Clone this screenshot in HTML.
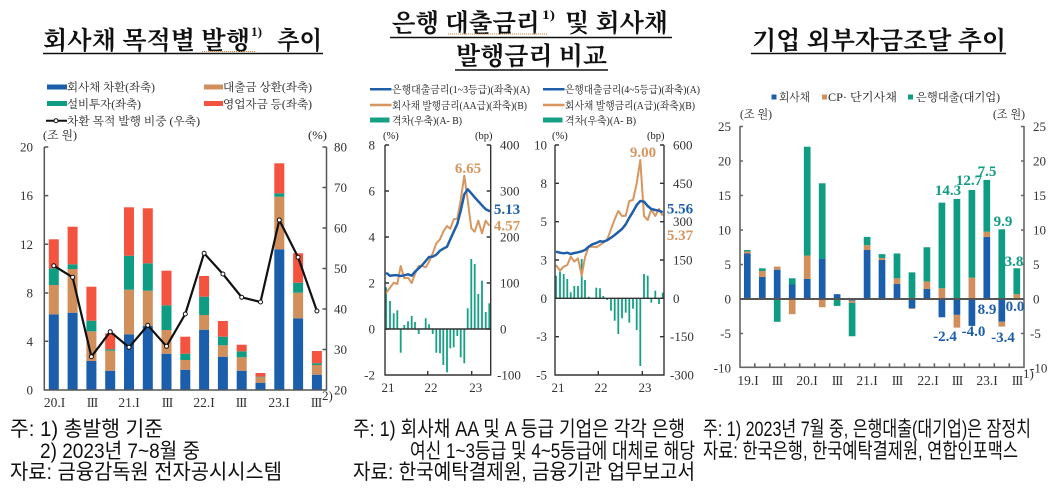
<!DOCTYPE html>
<html><head><meta charset="utf-8"><style>
html,body{margin:0;padding:0;background:#fff;}
svg{display:block;}
.t{font-family:"Liberation Serif","Noto Serif CJK SC",serif;font-weight:bold;fill:#111;}
.tk{font-family:"Liberation Serif","Noto Serif CJK SC",serif;font-size:13px;fill:#333;}
.rn{font-family:"Liberation Serif",serif;font-size:13.5px;fill:#333;}
.r3{letter-spacing:-1px;}
.lg{font-family:"Liberation Serif","Noto Serif CJK SC",serif;font-size:11.5px;fill:#222;}
.lg2{font-family:"Liberation Serif","Noto Serif CJK SC",serif;font-size:10.5px;fill:#222;}
.fn{font-family:"Liberation Sans","Noto Sans CJK KR",sans-serif;font-size:21px;fill:#111;}
.vl{font-family:"Liberation Serif",serif;font-size:15px;font-weight:bold;}
</style></head><body>
<svg width="1061" height="498" viewBox="0 0 1061 498" xmlns="http://www.w3.org/2000/svg">
<rect width="1061" height="498" fill="#fff"/>

<!-- ===== Titles ===== -->
<text class="t" x="43" y="49" font-size="25" textLength="207" lengthAdjust="spacingAndGlyphs">회사채 목적별 발행</text>
<text class="t" x="251" y="36" font-size="13" textLength="11" lengthAdjust="spacingAndGlyphs">1)</text>
<text class="t" x="277" y="49" font-size="25" textLength="45" lengthAdjust="spacingAndGlyphs">추이</text>
<line x1="43" y1="53.5" x2="323" y2="53.5" stroke="#111" stroke-width="1.6"/>
<line x1="202" y1="51.5" x2="255" y2="51.5" stroke="#e08030" stroke-width="1" stroke-dasharray="1,1"/>

<text class="t" x="391.7" y="31.5" font-size="25" textLength="148" lengthAdjust="spacingAndGlyphs">은행 대출금리</text>
<text class="t" x="542" y="19" font-size="13" textLength="13" lengthAdjust="spacingAndGlyphs">1)</text>
<text class="t" x="565" y="31.5" font-size="25" textLength="103" lengthAdjust="spacingAndGlyphs">및 회사채</text>
<line x1="390" y1="37.5" x2="672" y2="37.5" stroke="#111" stroke-width="1.6"/>
<line x1="448" y1="34" x2="547" y2="34" stroke="#e08030" stroke-width="1" stroke-dasharray="1,1"/>
<text class="t" x="456" y="64.5" font-size="25" textLength="151" lengthAdjust="spacingAndGlyphs">발행금리 비교</text>
<line x1="455" y1="70" x2="608" y2="70" stroke="#111" stroke-width="1.6"/>

<text class="t" x="752" y="49" font-size="25" textLength="254" lengthAdjust="spacingAndGlyphs">기업 외부자금조달 추이</text>
<line x1="751" y1="53.5" x2="1006" y2="53.5" stroke="#111" stroke-width="1.6"/>

<!-- ===== Left chart ===== -->
<rect x="47" y="84.5" width="20" height="5" fill="#1b5eab"/>
<text class="lg" x="67" y="91" textLength="88" lengthAdjust="spacingAndGlyphs">회사채 차환(좌축)</text>
<rect x="204" y="84.5" width="19" height="5" fill="#d18f5c"/>
<text class="lg" x="223" y="91" textLength="89" lengthAdjust="spacingAndGlyphs">대출금 상환(좌축)</text>
<rect x="47" y="101" width="20" height="5" fill="#0e9c82"/>
<text class="lg" x="67" y="108" textLength="74" lengthAdjust="spacingAndGlyphs">설비투자(좌축)</text>
<rect x="204" y="101" width="19" height="5" fill="#f4533f"/>
<text class="lg" x="223" y="108" textLength="89" lengthAdjust="spacingAndGlyphs">영업자금 등(좌축)</text>
<line x1="46" y1="120.7" x2="67" y2="120.7" stroke="#111" stroke-width="2"/>
<circle cx="56" cy="120.7" r="2" fill="#fff" stroke="#111" stroke-width="1"/>
<text class="lg" x="67" y="125" textLength="133" lengthAdjust="spacingAndGlyphs">차환 목적 발행 비중 (우축)</text>
<text class="lg" x="43" y="139" textLength="34" lengthAdjust="spacingAndGlyphs">(조 원)</text>
<text class="lg" x="308" y="139" textLength="19" lengthAdjust="spacingAndGlyphs">(%)</text>

<g>
<rect x="48.8" y="314.3" width="10" height="75.7" fill="#1b5eab"/><rect x="48.8" y="285" width="10" height="29.3" fill="#d18f5c"/><rect x="48.8" y="268.3" width="10" height="16.7" fill="#0e9c82"/><rect x="48.8" y="239.3" width="10" height="29" fill="#f4533f"/>
<rect x="67.6" y="312.7" width="10" height="77.3" fill="#1b5eab"/><rect x="67.6" y="269" width="10" height="43.7" fill="#d18f5c"/><rect x="67.6" y="264.3" width="10" height="4.7" fill="#0e9c82"/><rect x="67.6" y="226.7" width="10" height="37.6" fill="#f4533f"/>
<rect x="86.4" y="361" width="10" height="29" fill="#1b5eab"/><rect x="86.4" y="331.3" width="10" height="29.7" fill="#d18f5c"/><rect x="86.4" y="320.7" width="10" height="10.6" fill="#0e9c82"/><rect x="86.4" y="286.7" width="10" height="34" fill="#f4533f"/>
<rect x="105.2" y="370.7" width="10" height="19.3" fill="#1b5eab"/><rect x="105.2" y="350.7" width="10" height="20" fill="#d18f5c"/><rect x="105.2" y="349.3" width="10" height="1.4" fill="#0e9c82"/><rect x="105.2" y="333.3" width="10" height="16" fill="#f4533f"/>
<rect x="124" y="334.3" width="10" height="55.7" fill="#1b5eab"/><rect x="124" y="289.7" width="10" height="44.6" fill="#d18f5c"/><rect x="124" y="255.7" width="10" height="34" fill="#0e9c82"/><rect x="124" y="207.3" width="10" height="48.4" fill="#f4533f"/>
<rect x="142.8" y="326" width="10" height="64" fill="#1b5eab"/><rect x="142.8" y="290.7" width="10" height="35.3" fill="#d18f5c"/><rect x="142.8" y="263.3" width="10" height="27.4" fill="#0e9c82"/><rect x="142.8" y="208.3" width="10" height="55" fill="#f4533f"/>
<rect x="161.5" y="353.7" width="10" height="36.3" fill="#1b5eab"/><rect x="161.5" y="330" width="10" height="23.7" fill="#d18f5c"/><rect x="161.5" y="305.3" width="10" height="24.7" fill="#0e9c82"/><rect x="161.5" y="270.7" width="10" height="34.6" fill="#f4533f"/>
<rect x="180.3" y="369.7" width="10" height="20.3" fill="#1b5eab"/><rect x="180.3" y="360" width="10" height="9.7" fill="#d18f5c"/><rect x="180.3" y="353.7" width="10" height="6.3" fill="#0e9c82"/><rect x="180.3" y="336.7" width="10" height="17" fill="#f4533f"/>
<rect x="199.1" y="329.7" width="10" height="60.3" fill="#1b5eab"/><rect x="199.1" y="315" width="10" height="14.7" fill="#d18f5c"/><rect x="199.1" y="296.7" width="10" height="18.3" fill="#0e9c82"/><rect x="199.1" y="276" width="10" height="20.7" fill="#f4533f"/>
<rect x="217.9" y="356.7" width="10" height="33.3" fill="#1b5eab"/><rect x="217.9" y="345.3" width="10" height="11.4" fill="#d18f5c"/><rect x="217.9" y="336.7" width="10" height="8.6" fill="#0e9c82"/><rect x="217.9" y="321" width="10" height="15.7" fill="#f4533f"/>
<rect x="236.7" y="370.7" width="10" height="19.3" fill="#1b5eab"/><rect x="236.7" y="357.3" width="10" height="13.4" fill="#d18f5c"/><rect x="236.7" y="351.3" width="10" height="6" fill="#0e9c82"/><rect x="236.7" y="344.7" width="10" height="6.6" fill="#f4533f"/>
<rect x="255.5" y="382.7" width="10" height="7.3" fill="#1b5eab"/><rect x="255.5" y="377.3" width="10" height="5.4" fill="#d18f5c"/><rect x="255.5" y="376.7" width="10" height="0.6" fill="#0e9c82"/><rect x="255.5" y="373" width="10" height="3.7" fill="#f4533f"/>
<rect x="274.3" y="249.3" width="10" height="140.7" fill="#1b5eab"/><rect x="274.3" y="196.7" width="10" height="52.6" fill="#d18f5c"/><rect x="274.3" y="193.3" width="10" height="3.4" fill="#0e9c82"/><rect x="274.3" y="163.3" width="10" height="30" fill="#f4533f"/>
<rect x="293.1" y="318.3" width="10" height="71.7" fill="#1b5eab"/><rect x="293.1" y="292.7" width="10" height="25.6" fill="#d18f5c"/><rect x="293.1" y="282.7" width="10" height="10" fill="#0e9c82"/><rect x="293.1" y="253.3" width="10" height="29.4" fill="#f4533f"/>
<rect x="311.9" y="374.7" width="10" height="15.3" fill="#1b5eab"/><rect x="311.9" y="365" width="10" height="9.7" fill="#d18f5c"/><rect x="311.9" y="363.3" width="10" height="1.7" fill="#0e9c82"/><rect x="311.9" y="351" width="10" height="12.3" fill="#f4533f"/>
</g>
<polyline fill="none" stroke="#111" stroke-width="2.2" stroke-linejoin="round" points="53.8,265.7 72.6,277.3 91.4,356.7 110.2,331.7 129,347.3 147.8,325.3 166.5,346.3 185.3,314 204.1,253.3 222.9,274 241.7,297.3 260.5,302 279.3,220 298.1,257.3 316.9,311"/>
<g fill="#fff" stroke="#111" stroke-width="1">
<circle cx="53.8" cy="265.7" r="2"/><circle cx="72.6" cy="277.3" r="2"/><circle cx="91.4" cy="356.7" r="2"/><circle cx="110.2" cy="331.7" r="2"/><circle cx="129" cy="347.3" r="2"/><circle cx="147.8" cy="325.3" r="2"/><circle cx="166.5" cy="346.3" r="2"/><circle cx="185.3" cy="314" r="2"/><circle cx="204.1" cy="253.3" r="2"/><circle cx="222.9" cy="274" r="2"/><circle cx="241.7" cy="297.3" r="2"/><circle cx="260.5" cy="302" r="2"/><circle cx="279.3" cy="220" r="2"/><circle cx="298.1" cy="257.3" r="2"/><circle cx="316.9" cy="311" r="2"/>
</g>
<g stroke="#555" stroke-width="1.5" fill="none">
<line x1="44.3" y1="147" x2="44.3" y2="390.5"/>
<line x1="326.5" y1="147" x2="326.5" y2="390.5"/>
<line x1="44" y1="390" x2="327" y2="390"/>
<path d="M44.3 147h4M44.3 195.6h4M44.3 244.3h4M44.3 293h4M44.3 341.3h4"/>
<path d="M326.5 147h-4M326.5 187.5h-4M326.5 228h-4M326.5 268.5h-4M326.5 309h-4M326.5 349.5h-4"/>
</g>
<g class="tk" text-anchor="end">
<text x="33" y="151.5">20</text><text x="33" y="200">16</text><text x="33" y="248.8">12</text><text x="33" y="297.5">8</text><text x="33" y="345.8">4</text><text x="33" y="394.5">0</text>
</g>
<g class="tk">
<text x="334" y="151.5">80</text><text x="334" y="192">70</text><text x="334" y="232.5">60</text><text x="334" y="273">50</text><text x="334" y="313.5">40</text><text x="334" y="354">30</text><text x="334" y="394.5">20</text>
</g>
<g class="rn" text-anchor="middle">
<text x="54.5" y="407">20.I</text><text class="r3" x="92" y="407">III</text><text x="129" y="407">21.I</text><text class="r3" x="167" y="407">III</text><text x="204" y="407">22.I</text><text class="r3" x="241" y="407">III</text><text x="279" y="407">23.I</text><text class="r3" x="316" y="407">III</text>
</g>
<text class="tk" x="322" y="400" font-size="7">2)</text>

<!-- ===== Middle legend ===== -->
<line x1="370" y1="89.3" x2="391.5" y2="89.3" stroke="#1f5faa" stroke-width="2.5"/>
<text class="lg2" x="392" y="93" textLength="138" lengthAdjust="spacingAndGlyphs">은행대출금리(1~3등급)(좌축)(A)</text>
<line x1="543" y1="89.3" x2="564.5" y2="89.3" stroke="#1f5faa" stroke-width="2.5"/>
<text class="lg2" x="565" y="93" textLength="135" lengthAdjust="spacingAndGlyphs">은행대출금리(4~5등급)(좌축)(A)</text>
<line x1="370" y1="105" x2="391.5" y2="105" stroke="#d8965f" stroke-width="2.5"/>
<text class="lg2" x="392" y="109" textLength="135" lengthAdjust="spacingAndGlyphs">회사채 발행금리(AA급)(좌축)(B)</text>
<line x1="543" y1="105" x2="564.5" y2="105" stroke="#d8965f" stroke-width="2.5"/>
<text class="lg2" x="565" y="109" textLength="130" lengthAdjust="spacingAndGlyphs">회사채 발행금리(A급)(좌축)(B)</text>
<rect x="370" y="117.5" width="19.5" height="5" fill="#16a085"/>
<text class="lg2" x="392" y="124" textLength="70" lengthAdjust="spacingAndGlyphs">격차(우축)(A- B)</text>
<rect x="543" y="117.5" width="19.5" height="5" fill="#16a085"/>
<text class="lg2" x="565" y="124" textLength="71" lengthAdjust="spacingAndGlyphs">격차(우축)(A- B)</text>

<!-- ===== Chart A ===== -->
<text class="lg2" x="383" y="139">(%)</text>
<text class="lg2" x="475" y="139">(bp)</text>
<g fill="#16a085">
<rect x="385.2" y="287.3" width="1.8" height="41.7"/><rect x="389.1" y="301" width="1.8" height="28"/><rect x="392.8" y="313.3" width="1.8" height="15.7"/><rect x="396.4" y="310.3" width="1.8" height="18.7"/><rect x="399.8" y="329" width="1.8" height="23.7"/><rect x="403.4" y="325" width="1.8" height="4"/><rect x="407.1" y="321.3" width="1.8" height="7.7"/><rect x="410.8" y="316" width="1.8" height="13"/><rect x="414.1" y="322" width="1.8" height="7"/><rect x="417.8" y="329" width="1.8" height="5"/><rect x="421.4" y="328.3" width="1.8" height="0.7"/><rect x="424.8" y="318.3" width="1.8" height="10.7"/><rect x="428.1" y="324.3" width="1.8" height="4.7"/><rect x="431.8" y="329" width="1.8" height="5"/><rect x="435.4" y="329" width="1.8" height="23.7"/><rect x="439.1" y="329" width="1.8" height="24.3"/><rect x="442.4" y="329" width="1.8" height="36"/><rect x="446.1" y="329" width="1.8" height="43.3"/><rect x="449.4" y="329" width="1.8" height="19.3"/><rect x="452.8" y="329" width="1.8" height="18.3"/><rect x="456.4" y="329" width="1.8" height="7"/><rect x="459.8" y="329" width="1.8" height="28.3"/><rect x="463.4" y="329" width="1.8" height="34.3"/><rect x="466.8" y="308.3" width="1.8" height="20.7"/><rect x="470.4" y="259" width="1.8" height="70"/><rect x="473.8" y="264" width="1.8" height="65"/><rect x="477.4" y="294" width="1.8" height="35"/><rect x="481.1" y="280.7" width="1.8" height="48.3"/><rect x="484.8" y="312" width="1.8" height="17"/><rect x="488.4" y="303.3" width="1.8" height="25.7"/>
</g>
<polyline fill="none" stroke="#d8965f" stroke-width="2" stroke-linejoin="round" points="386,293.3 390,287.7 393.7,282.7 397.3,284 400.7,266 404.3,278.3 408,277.7 411.7,283 415,274 418.7,266 422.3,266 425.7,267.3 429,261.7 432.7,253.3 436.3,243.3 440,239.3 443.3,231.7 447,226 450.3,228.7 453.7,219.3 457.3,218.7 460.7,200 464.3,175.7 467.7,200 471.3,228.3 474.7,231.7 478.3,220.7 482,233.3 485.7,220.7 489.3,225.7"/>
<polyline fill="none" stroke="#1f5faa" stroke-width="2.5" stroke-linejoin="round" points="386,272.7 390,275.7 393.7,275.3 397.3,275.3 400.7,276 404.3,275.3 408,274.3 411.7,275.7 415,271.7 418.7,268.3 422.3,265 425.7,261 429,257 432.7,256.7 436.3,254.7 440,250.7 443.3,248.7 447,246.7 450.3,239.3 453.7,231.7 457.3,224 460.7,210.7 464.3,194.3 467.7,189.3 471.3,193.3 474.7,197.3 478.3,201.3 482,205.3 485.7,209.3 489.3,211 490.7,210.7"/>
<g stroke="#333" stroke-width="1.4" fill="none">
<line x1="385" y1="145" x2="385" y2="375.5"/>
<line x1="490.7" y1="145" x2="490.7" y2="375.5"/>
<line x1="384.5" y1="375" x2="491" y2="375"/>
<line x1="385" y1="329" x2="490.7" y2="329"/>
<path d="M385 145h4M385 191h4M385 237h4M385 283h4M385 329h4"/>
<path d="M490.7 145h-4M490.7 191h-4M490.7 237h-4M490.7 283h-4M490.7 329h-4"/>
<path d="M427.7 375v-4M471.7 375v-4"/>
</g>
<g class="tk" text-anchor="end">
<text x="375" y="149.5">8</text><text x="375" y="195.5">6</text><text x="375" y="241.5">4</text><text x="375" y="287.5">2</text><text x="375" y="333.5">0</text><text x="375" y="379.5">-2</text>
</g>
<g class="tk">
<text x="500" y="149.5">400</text><text x="500" y="195.5">300</text><text x="500" y="241.5">200</text><text x="500" y="287.5">100</text><text x="500" y="333.5">0</text><text x="497" y="379.5">-100</text>
</g>
<g class="tk" text-anchor="middle">
<text x="388" y="392">21</text><text x="431" y="392">22</text><text x="475.7" y="392">23</text>
</g>
<text class="vl" x="468" y="173" fill="#d8965f" text-anchor="middle">6.65</text>
<text class="vl" x="507" y="214" fill="#1f5faa" text-anchor="middle">5.13</text>
<text class="vl" x="507" y="230.5" fill="#d8965f" text-anchor="middle">4.57</text>

<!-- ===== Chart B ===== -->
<text class="lg2" x="552" y="139">(%)</text>
<text class="lg2" x="647" y="139">(bp)</text>
<g fill="#16a085">
<rect x="555.1" y="275.7" width="1.8" height="22.6"/><rect x="559.1" y="271.7" width="1.8" height="26.6"/><rect x="562.8" y="274" width="1.8" height="24.3"/><rect x="566.4" y="279" width="1.8" height="19.3"/><rect x="569.8" y="292.3" width="1.8" height="6"/><rect x="573.4" y="286" width="1.8" height="12.3"/><rect x="577.1" y="286" width="1.8" height="12.3"/><rect x="580.8" y="259" width="1.8" height="39.3"/><rect x="584.1" y="280" width="1.8" height="18.3"/><rect x="587.8" y="296.7" width="1.8" height="1.6"/><rect x="595.4" y="287.7" width="1.8" height="10.6"/><rect x="599.1" y="288.3" width="1.8" height="10"/><rect x="602.4" y="296" width="1.8" height="2.3"/><rect x="606.1" y="298.3" width="1.8" height="1.7"/><rect x="610.1" y="298.3" width="1.8" height="12.4"/><rect x="613.8" y="298.3" width="1.8" height="22.4"/><rect x="617.4" y="298.3" width="1.8" height="35.7"/><rect x="621.1" y="298.3" width="1.8" height="20"/><rect x="624.8" y="298.3" width="1.8" height="14.4"/><rect x="628.4" y="298.3" width="1.8" height="24.4"/><rect x="632.1" y="298.3" width="1.8" height="10.4"/><rect x="635.8" y="298.3" width="1.8" height="31.7"/><rect x="639.4" y="298.3" width="1.8" height="67.7"/><rect x="643.1" y="274" width="1.8" height="24.3"/><rect x="646.8" y="275.7" width="1.8" height="22.6"/><rect x="650.4" y="298.3" width="1.8" height="4.4"/><rect x="654.4" y="290.7" width="1.8" height="7.6"/><rect x="658.1" y="298.3" width="1.8" height="5.7"/><rect x="661.8" y="292.7" width="1.8" height="5.6"/>
</g>
<polyline fill="none" stroke="#d8965f" stroke-width="2" stroke-linejoin="round" points="556,265 560,270.7 563.7,266.7 567.3,265 570.7,256.7 574.3,261.7 578,258.3 581.7,275.7 585,257.3 588.7,246.7 592.3,246.7 596.3,247.3 600,245 603.3,242.7 607,240 611,229.3 614.7,219.3 618.3,211 622,216 625.7,215.7 629.3,201 633,200 636.7,183.3 640.3,160 644,216 647.7,220 651.3,209.3 655.3,216 659,209 662.7,215.7"/>
<polyline fill="none" stroke="#1f5faa" stroke-width="2.5" stroke-linejoin="round" points="556,251.7 560,252.7 563.7,253.3 567.3,252.7 570.7,254 574.3,253 578,252.3 581.7,251.3 585,250 588.7,246.7 592.3,244.3 596.3,243 600,241.3 603.3,241.7 607,240.3 611,237.7 614.7,235 618.3,232 622,229 625.7,224.3 629.3,217.7 633,211.7 636.7,205 640.3,201 644,201.7 647.7,206 651.3,209 655.3,210 659,210.7 662.7,212.3"/>
<g stroke="#333" stroke-width="1.4" fill="none">
<line x1="555" y1="145" x2="555" y2="375.5"/>
<line x1="664" y1="145" x2="664" y2="375.5"/>
<line x1="554.5" y1="375" x2="664.5" y2="375"/>
<line x1="555" y1="298.3" x2="664" y2="298.3"/>
<path d="M555 145h4M555 183.3h4M555 221.7h4M555 260h4M555 298.3h4M555 336.7h4"/>
<path d="M664 145h-4M664 183.3h-4M664 221.7h-4M664 260h-4M664 298.3h-4M664 336.7h-4"/>
<path d="M598.3 375v-4M642.3 375v-4"/>
</g>
<g class="tk" text-anchor="end">
<text x="547" y="149.5">10</text><text x="547" y="187.8">8</text><text x="547" y="226.2">5</text><text x="547" y="264.5">3</text><text x="547" y="302.8">0</text><text x="547" y="341.2">-3</text><text x="547" y="379.5">-5</text>
</g>
<g class="tk">
<text x="673" y="149.5">600</text><text x="673" y="187.8">450</text><text x="673" y="226.2">300</text><text x="673" y="264.5">150</text><text x="673" y="302.8">0</text><text x="670" y="341.2">-150</text><text x="670" y="379.5">-300</text>
</g>
<g class="tk" text-anchor="middle">
<text x="558" y="392">21</text><text x="601" y="392">22</text><text x="645" y="392">23</text>
</g>
<text class="vl" x="643" y="157" fill="#d8965f" text-anchor="middle">9.00</text>
<text class="vl" x="680" y="213.5" fill="#1f5faa" text-anchor="middle">5.56</text>
<text class="vl" x="680" y="240" fill="#d8965f" text-anchor="middle">5.37</text>

<!-- ===== Right chart ===== -->
<rect x="771.5" y="94.5" width="5" height="5" fill="#1b5eab"/>
<text class="lg" x="779" y="101" textLength="31" lengthAdjust="spacingAndGlyphs">회사채</text>
<rect x="822" y="94.5" width="5" height="5" fill="#d18f5c"/>
<text class="lg" x="828" y="101" textLength="69" lengthAdjust="spacingAndGlyphs">CP· 단기사채</text>
<rect x="908" y="94.5" width="5" height="5" fill="#0e9c82"/>
<text class="lg" x="916" y="101" textLength="84" lengthAdjust="spacingAndGlyphs">은행대출(대기업)</text>
<text class="lg" x="740" y="118" textLength="32" lengthAdjust="spacingAndGlyphs">(조 원)</text>
<text class="lg" x="993" y="118" textLength="32" lengthAdjust="spacingAndGlyphs">(조 원)</text>

<g transform="translate(0,299) scale(1,-6.9)">
<rect x="743.95" y="0" width="6.7" height="6.6" fill="#1b5eab"/><rect x="743.95" y="6.6" width="6.7" height="0.3" fill="#d18f5c"/><rect x="743.95" y="6.9" width="6.7" height="0.2" fill="#0e9c82"/>
<rect x="758.95" y="0" width="6.7" height="3.2" fill="#1b5eab"/><rect x="758.95" y="3.2" width="6.7" height="0.85" fill="#d18f5c"/><rect x="758.95" y="4.05" width="6.7" height="0.4" fill="#0e9c82"/>
<rect x="773.85" y="0" width="6.7" height="4.25" fill="#1b5eab"/><rect x="773.85" y="4.25" width="6.7" height="0.45" fill="#d18f5c"/><rect x="773.85" y="-3.3" width="6.7" height="3.3" fill="#0e9c82"/>
<rect x="788.85" y="0" width="6.7" height="2.1" fill="#1b5eab"/><rect x="788.85" y="2.1" width="6.7" height="0.9" fill="#0e9c82"/><rect x="788.85" y="-2.2" width="6.7" height="2.2" fill="#d18f5c"/>
<rect x="803.85" y="0" width="6.7" height="2.9" fill="#1b5eab"/><rect x="803.85" y="2.9" width="6.7" height="3.4" fill="#d18f5c"/><rect x="803.85" y="6.3" width="6.7" height="15.77" fill="#0e9c82"/>
<rect x="818.85" y="0" width="6.7" height="5.85" fill="#1b5eab"/><rect x="818.85" y="5.85" width="6.7" height="10.92" fill="#0e9c82"/><rect x="818.85" y="-1.2" width="6.7" height="1.2" fill="#d18f5c"/>
<rect x="833.75" y="0" width="6.7" height="0.7" fill="#1b5eab"/><rect x="833.75" y="-1.0" width="6.7" height="1.0" fill="#0e9c82"/>
<rect x="848.75" y="-0.25" width="6.7" height="0.25" fill="#1b5eab"/><rect x="848.75" y="-0.55" width="6.7" height="0.3" fill="#d18f5c"/><rect x="848.75" y="-5.4" width="6.7" height="4.85" fill="#0e9c82"/>
<rect x="863.75" y="0" width="6.7" height="7.1" fill="#1b5eab"/><rect x="863.75" y="7.1" width="6.7" height="0.7" fill="#d18f5c"/><rect x="863.75" y="7.8" width="6.7" height="1.2" fill="#0e9c82"/>
<rect x="878.65" y="0" width="6.7" height="5.65" fill="#1b5eab"/><rect x="878.65" y="5.65" width="6.7" height="0.3" fill="#d18f5c"/><rect x="878.65" y="5.95" width="6.7" height="0.55" fill="#0e9c82"/>
<rect x="893.65" y="0" width="6.7" height="2.17" fill="#1b5eab"/><rect x="893.65" y="2.17" width="6.7" height="0.83" fill="#d18f5c"/><rect x="893.65" y="3.0" width="6.7" height="3.6" fill="#0e9c82"/>
<rect x="908.65" y="0" width="6.7" height="3.86" fill="#0e9c82"/><rect x="908.65" y="-1.35" width="6.7" height="1.35" fill="#1b5eab"/><rect x="908.65" y="-1.45" width="6.7" height="0.1" fill="#d18f5c"/>
<rect x="923.55" y="0" width="6.7" height="1.45" fill="#1b5eab"/><rect x="923.55" y="1.45" width="6.7" height="1.1" fill="#d18f5c"/><rect x="923.55" y="2.55" width="6.7" height="4.95" fill="#0e9c82"/>
<rect x="938.55" y="0" width="6.7" height="1.55" fill="#d18f5c"/><rect x="938.55" y="1.55" width="6.7" height="12.41" fill="#0e9c82"/><rect x="938.55" y="-2.65" width="6.7" height="2.65" fill="#1b5eab"/>
<rect x="953.55" y="0" width="6.7" height="14.5" fill="#0e9c82"/><rect x="953.55" y="-2.3" width="6.7" height="2.3" fill="#1b5eab"/><rect x="953.55" y="-4.15" width="6.7" height="1.85" fill="#d18f5c"/>
<rect x="968.55" y="0" width="6.7" height="3.1" fill="#d18f5c"/><rect x="968.55" y="3.1" width="6.7" height="12.7" fill="#0e9c82"/><rect x="968.55" y="-3.9" width="6.7" height="3.9" fill="#1b5eab"/>
<rect x="983.45" y="0" width="6.7" height="9.0" fill="#1b5eab"/><rect x="983.45" y="9.0" width="6.7" height="0.75" fill="#d18f5c"/><rect x="983.45" y="9.75" width="6.7" height="7.5" fill="#0e9c82"/>
<rect x="998.45" y="0" width="6.7" height="10.1" fill="#0e9c82"/><rect x="998.45" y="-3.3" width="6.7" height="3.3" fill="#1b5eab"/><rect x="998.45" y="-4.0" width="6.7" height="0.7" fill="#d18f5c"/>
<rect x="1013.45" y="0" width="6.7" height="0.7" fill="#d18f5c"/><rect x="1013.45" y="0.7" width="6.7" height="3.75" fill="#0e9c82"/>
</g>
<g stroke="#666" stroke-width="1.6" fill="none">
<line x1="740" y1="126" x2="740" y2="368"/>
<line x1="1024" y1="126" x2="1024" y2="368"/>
<line x1="739.5" y1="367.3" x2="1024.5" y2="367.3"/>
<path d="M740 126.5h3M740 161h3M740 195.5h3M740 230h3M740 264.5h3M740 333.5h3"/>
<path d="M1024 126.5h-3M1024 161h-3M1024 195.5h-3M1024 230h-3M1024 264.5h-3M1024 333.5h-3"/>
<path d="M754.8 367.3v-4M769.8 367.3v-4M784.7 367.3v-4M799.7 367.3v-4M814.7 367.3v-4M829.7 367.3v-4M844.6 367.3v-4M859.6 367.3v-4M874.6 367.3v-4M889.5 367.3v-4M904.5 367.3v-4M919.5 367.3v-4M934.4 367.3v-4M949.4 367.3v-4M964.4 367.3v-4M979.4 367.3v-4M994.3 367.3v-4M1009.3 367.3v-4"/>
</g>
<line x1="740" y1="299" x2="1024" y2="299" stroke="#555" stroke-width="2"/>
<g class="tk" text-anchor="end">
<text x="731" y="131">25</text><text x="731" y="165.5">20</text><text x="731" y="200">15</text><text x="731" y="234.5">10</text><text x="731" y="269">5</text><text x="731" y="303.5">0</text><text x="731" y="338">-5</text><text x="731" y="372.5">-10</text>
</g>
<g class="tk">
<text x="1033" y="131">25</text><text x="1033" y="165.5">20</text><text x="1033" y="200">15</text><text x="1033" y="234.5">10</text><text x="1033" y="269">5</text><text x="1033" y="303.5">0</text><text x="1030" y="338">-5</text><text x="1030" y="372.5">-10</text>
</g>
<g class="rn" text-anchor="middle">
<text x="748" y="385">19.I</text><text class="r3" x="777" y="385">III</text><text x="807" y="385">20.I</text><text class="r3" x="837" y="385">III</text><text x="867" y="385">21.I</text><text class="r3" x="897" y="385">III</text><text x="928" y="385">22.I</text><text class="r3" x="957" y="385">III</text><text x="987" y="385">23.I</text><text class="r3" x="1017" y="385">III</text>
</g>
<text class="tk" x="1023" y="378" font-size="7">1)</text>
<g class="vl" text-anchor="middle" fill="#0e9c82">
<text x="948" y="195">14.3</text><text x="969" y="185">12.7</text><text x="987" y="176">7.5</text><text x="1003" y="226">9.9</text><text x="1014" y="266">3.8</text>
</g>
<g class="vl" text-anchor="middle" fill="#1b5eab">
<text x="987" y="314">8.9</text><text x="1015" y="311">0.0</text><text x="945" y="341">-2.4</text><text x="973.5" y="336">-4.0</text><text x="1003" y="342">-3.4</text>
</g>

<!-- ===== Footnotes ===== -->
<text class="fn" x="10" y="436" textLength="153" lengthAdjust="spacingAndGlyphs">주: 1) 총발행 기준</text>
<text class="fn" x="40" y="458" textLength="160" lengthAdjust="spacingAndGlyphs">2) 2023년 7~8월 중</text>
<text class="fn" x="10" y="479" textLength="272" lengthAdjust="spacingAndGlyphs">자료: 금융감독원 전자공시시스템</text>

<text class="fn" x="353" y="436" textLength="332" lengthAdjust="spacingAndGlyphs">주: 1) 회사채 AA 및 A 등급 기업은 각각 은행</text>
<text class="fn" x="410" y="458" textLength="285" lengthAdjust="spacingAndGlyphs">여신 1~3등급 및 4~5등급에 대체로 해당</text>
<text class="fn" x="353" y="479" textLength="342" lengthAdjust="spacingAndGlyphs">자료: 한국예탁결제원, 금융기관 업무보고서</text>

<text class="fn" x="703" y="436" textLength="328" lengthAdjust="spacingAndGlyphs">주: 1) 2023년 7월 중, 은행대출(대기업)은 잠정치</text>
<text class="fn" x="703" y="458" textLength="315" lengthAdjust="spacingAndGlyphs">자료: 한국은행, 한국예탁결제원, 연합인포맥스</text>
</svg>
</body></html>
